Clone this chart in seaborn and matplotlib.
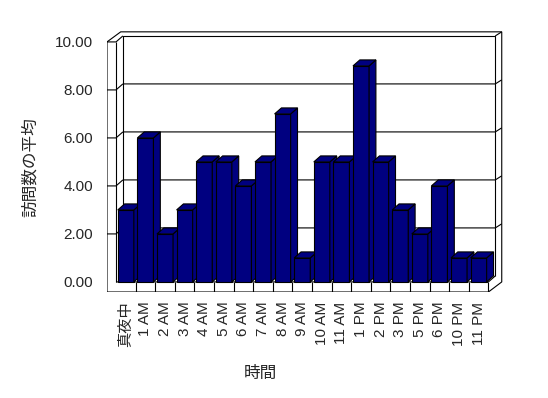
import matplotlib
matplotlib.use("Agg")
import matplotlib.pyplot as plt
from matplotlib.patches import Polygon
import pandas as pd
import seaborn as sns

# ---- data ----
hours = ["真夜中", "1 AM", "2 AM", "3 AM", "4 AM", "5 AM", "6 AM", "7 AM", "8 AM",
         "9 AM", "10 AM", "11 AM", "1 PM", "2 PM", "3 PM", "5 PM", "6 PM", "10 PM", "11 PM"]
visits = [3, 6, 2, 3, 5, 5, 4, 5, 7, 1, 5, 5, 9, 5, 3, 2, 4, 1, 1]
y_ticks = [0, 2, 4, 6, 8, 10]
x_title = "時間"
y_title = "訪問数の平均"

# ---- style ----
NAVY = "#000080"
LW = 0.8
DX, DY = 0.35, 0.25      # depth of bars / back wall offset (data units)
TX, TY = 0.33, 0.17      # back wall thickness
WALL = 0.46              # left wall thickness
FLOOR = 0.42             # floor thickness

sns.set_style("white")
plt.rcParams["font.family"] = ["Liberation Sans", "Noto Sans CJK JP"]

fig = plt.figure(figsize=(5.48, 3.98), dpi=100)
ax = fig.add_axes([107 / 548, (398 - 292) / 398, 403 / 548, 267 / 398])

df = pd.DataFrame({"hour": hours, "visits": visits})
sns.barplot(data=df, x="hour", y="visits", order=hours, color=NAVY, saturation=1,
            width=0.82, edgecolor="black", linewidth=LW, ax=ax)
bars = list(ax.patches)

n = len(hours)
ymax = y_ticks[-1]
xl, xr = -0.5, n - 0.5

# ---- 3D faces of bars ----
for i, p in enumerate(bars):
    x0 = p.get_x()
    w = p.get_width()
    h = p.get_height()
    x1 = x0 + w
    p.set_zorder(10 + 3 * i)
    side = Polygon([(x1, 0), (x1 + DX, DY), (x1 + DX, h + DY), (x1, h)],
                   closed=True, fc=NAVY, ec="black", lw=LW, zorder=11 + 3 * i)
    top = Polygon([(x0, h), (x0 + DX, h + DY), (x1 + DX, h + DY), (x1, h)],
                  closed=True, fc=NAVY, ec="black", lw=LW, zorder=11 + 3 * i)
    ax.add_patch(side)
    ax.add_patch(top)

# ---- frame (walls + floor) ----
sil = Polygon([(xl - WALL, -FLOOR), (xl - WALL, ymax),
               (xl - WALL + 2 * DX, ymax + DY + TY),
               (xr + DX + TX, ymax + DY + TY), (xr + DX + TX, 0),
               (xr, -FLOOR)], closed=True, fc="white", ec="black", lw=LW, zorder=1)
ax.add_patch(sil)

def seg(xs, ys, z=3):
    ax.plot(xs, ys, color="black", lw=LW, zorder=z, solid_capstyle="butt")

# back wall inner face
seg([xl + DX, xl + DX, xr + DX, xr + DX], [DY, ymax + DY, ymax + DY, DY])
seg([xr + DX, xr + DX + TX], [ymax + DY, ymax + DY + TY])
# left wall
seg([xl - WALL, xl, xl + DX], [ymax, ymax, ymax + DY])
seg([xl, xl], [0, ymax])
# gridlines on back wall and ticks on left wall
for v in y_ticks[1:-1]:
    seg([xl + DX, xr + DX, xr + DX + TX], [v + DY, v + DY, v + DY + TY], z=2)
    seg([xl - WALL, xl, xl + DX], [v, v, v + DY], z=2)
# floor
seg([xl, xr, xr + DX], [0, 0, DY])
seg([xr, xr], [-FLOOR, 0])
for k in range(1, n):
    seg([k - 0.5, k - 0.5], [-FLOOR, 0])

# ---- axes ----
ax.set_xlim(xl - WALL, xl - WALL + 403 / 19.6)
ax.set_ylim(-FLOOR, -FLOOR + 267 / 24.0)
ax.set_yticks(y_ticks, labels=[f"{v:.2f}" for v in y_ticks])
ax.tick_params(axis="y", length=0, pad=10, labelsize=11)
ax.tick_params(axis="x", length=0, pad=7, labelsize=11, labelrotation=90)
for s in ax.spines.values():
    s.set_visible(False)
ax.grid(False)
ax.set_xlabel(x_title, fontsize=12)
ax.set_ylabel(y_title, fontsize=12)
ax.xaxis.set_label_coords((260 - 107) / 403, (292 - 366) / 267)
ax.yaxis.set_label_coords((38 - 107) / 403, (292 - 167) / 267)

fig.savefig("out.png", dpi=100)
